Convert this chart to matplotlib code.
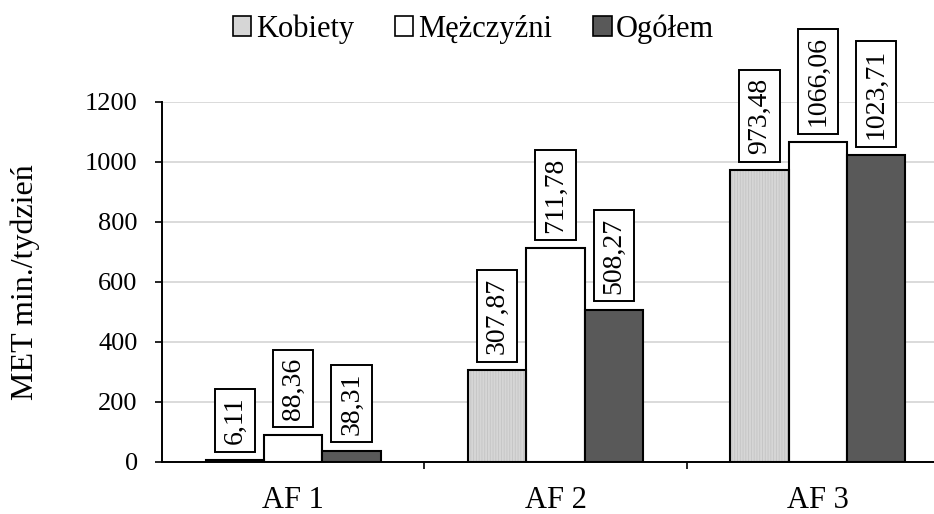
import matplotlib
matplotlib.use("Agg")
import matplotlib.pyplot as plt
from matplotlib.patches import Patch
import numpy as np

plt.rcParams['font.family'] = ['Liberation Serif', 'DejaVu Serif']
plt.rcParams['hatch.linewidth'] = 0.6

categories = ["AF 1", "AF 2", "AF 3"]
series_names = ["Kobiety", "Mężczyźni", "Ogółem"]
kobiety = [6.11, 307.87, 973.48]
mezczyzni = [88.36, 711.78, 1066.06]
ogolem = [38.31, 508.27, 1023.71]
yticks = [0, 200, 400, 600, 800, 1000, 1200]

series = [kobiety, mezczyzni, ogolem]
colors = ["#d6d6d6", "#ffffff", "#595959"]

fig = plt.figure(figsize=(9.34, 5.14), dpi=100)
ax = fig.add_axes([162/934, 1-462/514, (949-162)/934, 360/514])

x = np.arange(len(categories))
bw = 0.2224
for i, (vals, col) in enumerate(zip(series, colors)):
    pos = x + (i - 1) * bw
    if i == 0:
        ax.bar(pos, vals, bw, color=col, edgecolor="#c4c4c4", linewidth=0,
               hatch="||||||", zorder=3)
        ax.bar(pos, vals, bw, fill=False, edgecolor="black", linewidth=1.5, zorder=4)
    else:
        ax.bar(pos, vals, bw, color=col, edgecolor="black", linewidth=1.5, zorder=3)
    for p, v in zip(pos, vals):
        ax.annotate(f"{v:.2f}".replace(".", ","), xy=(p, v), xytext=(0, 11.4),
                    textcoords="offset points", ha="center", va="bottom",
                    rotation=90, fontsize=20,
                    bbox=dict(boxstyle="square,pad=0.28", fc="white", ec="black", lw=1.4),
                    zorder=5)

ax.set_xlim(-0.5, 2.5)
ax.set_ylim(0, 1200)
ax.set_yticks(yticks)
ax.set_yticklabels([str(t) for t in yticks], fontsize=19)
ax.tick_params(axis="y", length=5, width=1.2, pad=12.5, direction="out")
ax.set_xticks(x)
ax.set_xticklabels(categories, fontsize=22)
ax.tick_params(axis="x", which="major", length=0, pad=17)
ax.set_xticks([0.5, 1.5], minor=True)
ax.tick_params(axis="x", which="minor", length=5, width=1.2, direction="out")

ax.grid(axis="y", color="#d4d4d4", linewidth=1.2, zorder=0)
ax.set_axisbelow(True)
for s in ["top", "right"]:
    ax.spines[s].set_visible(False)
for s in ["left", "bottom"]:
    ax.spines[s].set_linewidth(1.4)
    ax.spines[s].set_zorder(6)

fig.text(25/934, 1-282/514, "MET min./tydzień", rotation=90, ha="center",
         va="center", fontsize=23)

handles = [Patch(facecolor=c, edgecolor="black", linewidth=1.2) for c in colors]
fig.legend(handles, series_names, loc="center", bbox_to_anchor=(0.507, 1-29/514),
           ncol=3, frameon=False, fontsize=22, handlelength=0.6, handleheight=0.6,
           handletextpad=0.15, columnspacing=1.35, borderaxespad=0)

fig.savefig("out.png", dpi=100)
